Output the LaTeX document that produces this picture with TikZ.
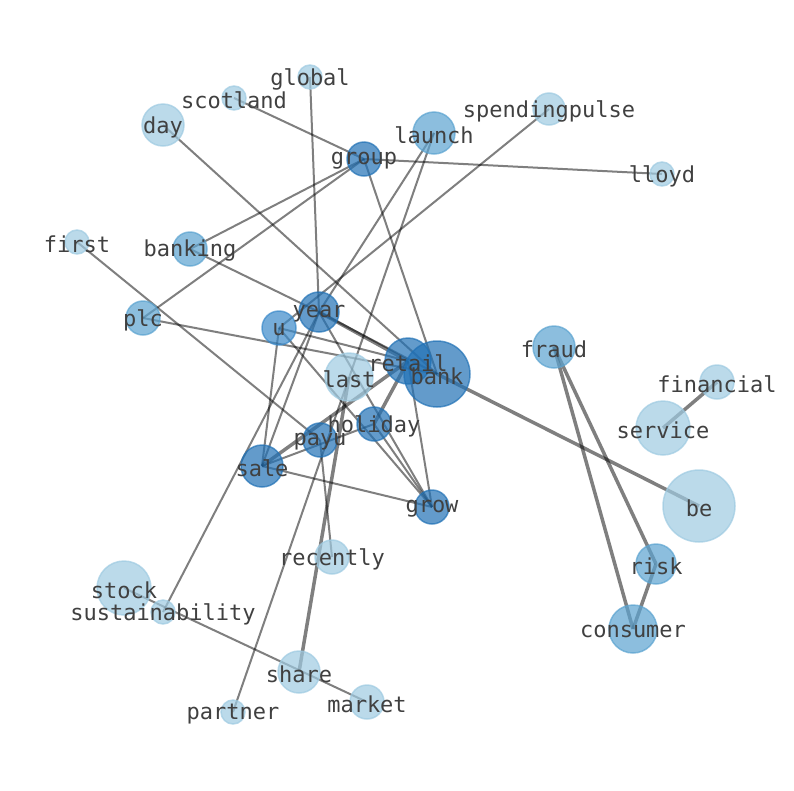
\documentclass[tikz,border=0pt]{standalone}
\usepackage{fontspec}
\setmonofont{DejaVu Sans Mono}
\usepackage{xcolor}
\usetikzlibrary{shapes, arrows}

\definecolor{paleblue}{HTML}{9ECAE1}
\definecolor{midblue}{HTML}{5BA3D0}
\definecolor{deepblue}{HTML}{3A89C9}
\definecolor{darkblue}{HTML}{2171B5}

\pgfdeclarelayer{bg}
\pgfsetlayers{bg,main}

\begin{document}
\begin{tikzpicture}[x=1pt, y=-1pt, line width=2pt,
    word/.style={circle, inner sep=0pt, line width=1.5pt, fill opacity=0.7, draw opacity=0.7},
    lightnode/.style={word, fill=paleblue, draw=paleblue},
    midnode/.style={word, fill=midblue, draw=midblue},
    deepnode/.style={word, fill=deepblue, draw=deepblue},
    darknode/.style={word, fill=darkblue, draw=darkblue},
    tag/.style={font=\ttfamily\fontsize{22}{24}\selectfont, text=black!75, inner sep=0pt, yshift=-2pt},
    link/.style={draw=black, draw opacity=0.5, line width=2pt},
    heavy/.style={link, line width=3.5pt}]
    \useasboundingbox (0,0) rectangle (794,790);

    \node [lightnode, minimum size=24pt] (global) at (310,77) {};
    \node [lightnode, minimum size=24pt] (scotland) at (234,98) {};
    \node [lightnode, minimum size=42pt] (day) at (163,125) {};
    \node [midnode, minimum size=42pt] (launch) at (434,133) {};
    \node [lightnode, minimum size=32pt] (spendingpulse) at (549,109) {};
    \node [darknode, minimum size=34pt] (group) at (364,159) {};
    \node [lightnode, minimum size=24pt] (lloyd) at (662,174) {};
    \node [lightnode, minimum size=24pt] (first) at (77,242) {};
    \node [midnode, minimum size=34pt] (banking) at (190,249) {};
    \node [midnode, minimum size=34pt] (plc) at (143,318) {};
    \node [darknode, minimum size=40pt] (year) at (319,312) {};
    \node [deepnode, minimum size=34pt] (u) at (279,328) {};
    \node [darknode, minimum size=46pt] (retail) at (408,361) {};
    \node [darknode, minimum size=66pt] (bank) at (437,374) {};
    \node [lightnode, minimum size=48pt] (last) at (349,377) {};
    \node [midnode, minimum size=42pt] (fraud) at (554,347) {};
    \node [lightnode, minimum size=34pt] (financial) at (717,382) {};
    \node [lightnode, minimum size=54pt] (service) at (663,428) {};
    \node [darknode, minimum size=34pt] (holiday) at (374,424) {};
    \node [darknode, minimum size=34pt] (payu) at (320,440) {};
    \node [darknode, minimum size=42pt] (sale) at (262,466) {};
    \node [darknode, minimum size=34pt] (grow) at (432,507) {};
    \node [lightnode, minimum size=72pt] (be) at (699,506) {};
    \node [lightnode, minimum size=34pt] (recently) at (332,557) {};
    \node [midnode, minimum size=40pt] (risk) at (656,564) {};
    \node [lightnode, minimum size=54pt] (stock) at (124,588) {};
    \node [lightnode, minimum size=24pt] (sustainability) at (163,612) {};
    \node [midnode, minimum size=48pt] (consumer) at (633,629) {};
    \node [lightnode, minimum size=42pt] (share) at (299,672) {};
    \node [lightnode, minimum size=34pt] (market) at (367,702) {};
    \node [lightnode, minimum size=24pt] (partner) at (233,712) {};

    % words on top of every circle
    \foreach \w in {global, scotland, day, launch, spendingpulse, group, lloyd,
        first, banking, plc, year, u, retail, bank, last, fraud, financial,
        service, holiday, payu, sale, grow, be, recently, risk, stock,
        sustainability, consumer, share, market, partner}
        \node [tag] (\w-text) at (\w) {\w};

    \begin{pgfonlayer}{bg}
        \path (scotland.center) edge [link] (group.center);
        \path (lloyd.center) edge [link] (group.center);
        \path (banking.center) edge [link] (group.center);
        \path (plc.center) edge [link] (group.center);
        \path (group.center) edge [link] (bank.center);
        \path (global.center) edge [link] (year.center);
        \path (launch.center) edge [link] (year.center);
        \path (launch.center) edge [link] (partner.center);
        \path (spendingpulse.center) edge [link] (u.center);
        \path (day.center) edge [link] (bank.center);
        \path (first.center) edge [link] (payu.center);
        \path (banking.center) edge [link] (year.center);
        \path (plc.center) edge [link] (bank.center);
        \path (sustainability.center) edge [link] (year.center);
        \path (year.center) edge [heavy] (retail.center);
        \path (year.center) edge [link] (bank.center);
        \path (year.center) edge [link] (grow.center);
        \path (year.center) edge [link] (sale.center);
        \path (u.center) edge [link] (sale.center);
        \path (u.center) edge [link] (grow.center);
        \path (u.center) edge [link] (retail.center);
        \path (sale.center) edge [heavy] (retail.center);
        \path (sale.center) edge [link] (holiday.center);
        \path (sale.center) edge [link] (grow.center);
        \path (retail.center) edge [heavy] (holiday.center);
        \path (retail.center) edge [link] (grow.center);
        \path (holiday.center) edge [link] (grow.center);
        \path (last.center) edge [heavy] (share.center);
        \path (stock.center) edge [link] (market.center);
        \path (recently.center) edge [link] (payu.center);
        \path (bank.center) edge [heavy] (be.center);
        \path (fraud.center) edge [heavy] (risk.center);
        \path (fraud.center) edge [heavy] (consumer.center);
        \path (risk.center) edge [heavy] (consumer.center);
        \path (financial.center) edge [heavy] (service.center);
    \end{pgfonlayer}
\end{tikzpicture}
\end{document}
